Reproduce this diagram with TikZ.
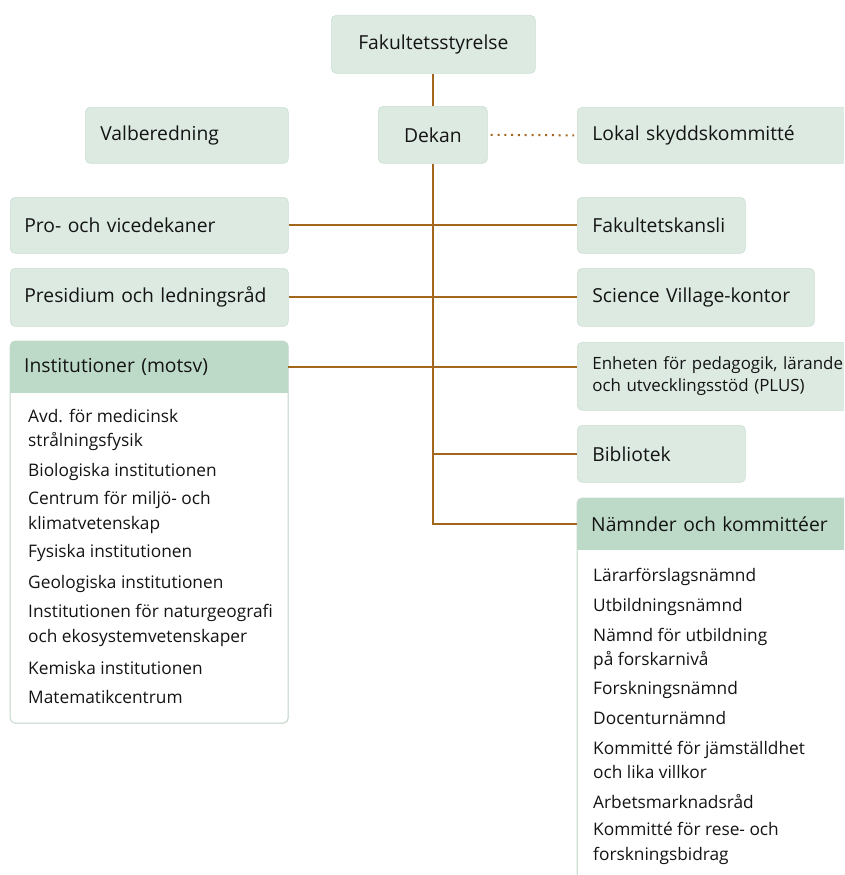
\documentclass[tikz,border=0pt]{standalone}
\usepackage{fontspec}
\setmainfont{Open Sans}
\definecolor{boxfill}{HTML}{DCEAE2}
\definecolor{boxline}{HTML}{CCDFD4}
\definecolor{hdrfill}{HTML}{BDDAC8}
\definecolor{listline}{HTML}{C6DACD}
\definecolor{conncol}{HTML}{A2661F}
\definecolor{txt}{HTML}{141414}
\begin{document}
\begin{tikzpicture}[x=1pt,y=-1pt,
  box/.style={draw=boxline, fill=boxfill, rounded corners=5pt, line width=0.7pt,
    anchor=north west, inner xsep=15pt, inner ysep=0pt, align=left, text=txt,
    font=\fontsize{19.3}{22}\selectfont},
  cbox/.style={box, align=center},
  hdr/.style={anchor=north west, inner xsep=14pt, inner ysep=0pt, align=left, text=txt,
    font=\fontsize{19.3}{22}\selectfont},
  listbox/.style={draw=listline, fill=white, rounded corners=5pt, line width=0.7pt,
    anchor=north west, inner sep=0pt},
  item/.style={anchor=west, inner sep=0pt, align=left, text=txt,
    font=\fontsize{17.3}{24.5}\selectfont},
  conn/.style={draw=conncol, line width=2pt},
  dots/.style={draw=conncol, line width=2pt, dash pattern=on 2pt off 4.8pt}
]
\useasboundingbox (0,0) rectangle (844,875);
\clip (0,0) rectangle (844,875);

% top boxes
\node[cbox, minimum height=58pt, text width=174pt] (fak) at (331,15) {Fakultetsstyrelse};
\node[cbox, minimum height=57pt, text width=79pt] (dekan) at (378,106) {Dekan};
\node[box, minimum height=56pt, text width=173pt] (valb) at (85,107) {Valberedning};
\node[box, minimum height=56pt, text width=260pt] (lokal) at (577,107) {Lokal skyddskommitté};
\node[box, minimum height=56pt, inner xsep=14pt, text width=250pt] (pro) at (10,197) {Pro- och vicedekaner};
\node[box, minimum height=56pt, text width=138pt] (fkans) at (577,197) {Fakultetskansli};
\node[box, minimum height=58pt, inner xsep=14pt, text width=250pt] (pres) at (10,268) {Presidium och ledningsråd};
\node[box, minimum height=58pt, text width=207pt] (sv) at (577,268) {Science Village-kontor};
\node[box, minimum height=68pt, text width=260pt, font=\fontsize{16.9}{22}\selectfont] (enh) at (577,342) {Enheten för pedagogik, lärande\\och utvecklingsstöd (PLUS)};
\node[box, minimum height=57pt, text width=138pt] (bib) at (577,425) {Bibliotek};

% Institutioner list box
\node[listbox, minimum width=278pt, minimum height=382pt] (inst) at (10,341) {};
\begin{scope}
  \clip[rounded corners=5pt] (10,341) rectangle (288,723);
  \fill[hdrfill] (10,341) rectangle (288,393);
\end{scope}
\draw[listline, line width=0.7pt, rounded corners=5pt] (10,341) rectangle (288,723);
\node[hdr, minimum height=52pt, text width=250pt] (insth) at (10,341) {Institutioner (motsv)};

% Nämnder list box
\node[listbox, minimum width=290pt, minimum height=400pt] (nam) at (577,498) {};
\begin{scope}
  \clip[rounded corners=5pt] (577,498) rectangle (867,898);
  \fill[hdrfill] (577,498) rectangle (867,550);
\end{scope}
\draw[listline, line width=0.7pt, rounded corners=5pt] (577,498) rectangle (867,898);
\node[hdr, minimum height=52pt, text width=262pt] (namh) at (577,498) {Nämnder och kommittéer};

% left list items
\node[item] (i1) at (28,430) {Avd. för medicinsk\\strålningsfysik};
\node[item] (i2) at (28,472) {Biologiska institutionen};
\node[item] (i3) at (28,512.5) {Centrum för miljö- och\\klimatvetenskap};
\node[item] (i4) at (28,553) {Fysiska institutionen};
\node[item] (i5) at (28,584) {Geologiska institutionen};
\node[item] (i6) at (28,625.5) {Institutionen för naturgeografi\\och ekosystemvetenskaper};
\node[item] (i7) at (28,668) {Kemiska institutionen};
\node[item] (i8) at (28,697) {Matematikcentrum};

% right list items
\node[item] (n1) at (593,577) {Lärarförslagsnämnd};
\node[item] (n2) at (593,607) {Utbildningsnämnd};
\node[item] (n3) at (593,649) {Nämnd för utbildning\\på forskarnivå};
\node[item] (n4) at (593,690) {Forskningsnämnd};
\node[item] (n5) at (593,718) {Docenturnämnd};
\node[item] (n6) at (593,760) {Kommitté för jämställdhet\\och lika villkor};
\node[item] (n7) at (593,802) {Arbetsmarknadsråd};
\node[item] (n8) at (593,843.5) {Kommitté för rese- och\\forskningsbidrag};

% connectors
\draw[conn] (fak.south) -- (fak.south |- dekan.north);
\draw[conn] (dekan.south) -- (dekan.south |- namh.west) -- (namh.west);
\draw[conn] (pro.east) -- (fkans.west);
\draw[conn] (pres.east) -- (sv.west);
\draw[conn] (insth.east) -- (insth.east -| enh.west);
\draw[conn] (bib.west) -- (bib.west -| dekan.south);
\draw[dots, shorten <=3pt, shorten >=3pt] (dekan.east) -- (lokal.west);
\end{tikzpicture}
\end{document}
